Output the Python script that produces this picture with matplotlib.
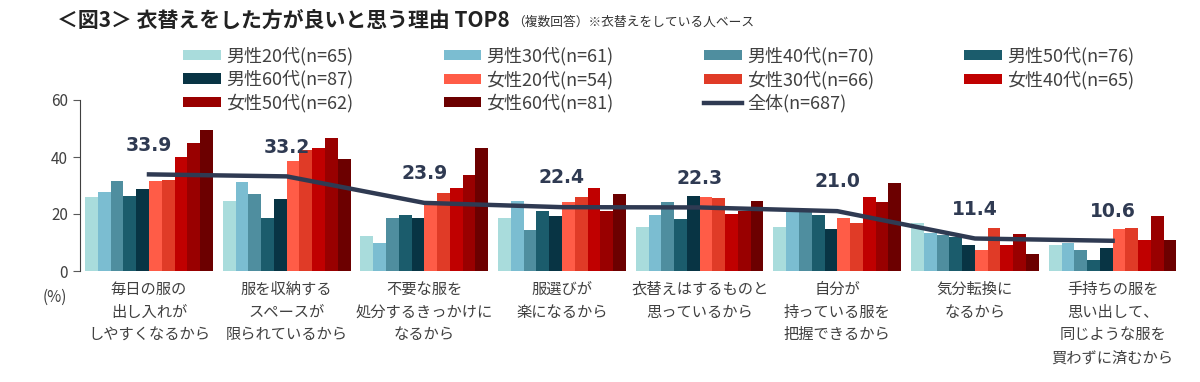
import numpy as np
import matplotlib
matplotlib.use("Agg")
import matplotlib.pyplot as plt

plt.rcParams['font.family'] = ['Noto Sans CJK JP', 'DejaVu Sans']

categories = ["毎日の服の\n出し入れが\nしやすくなるから",
              "服を収納する\nスペースが\n限られているから",
              "不要な服を\n処分するきっかけに\nなるから",
              "服選びが\n楽になるから",
              "衣替えはするものと\n思っているから",
              "自分が\n持っている服を\n把握できるから",
              "気分転換に\nなるから",
              "手持ちの服を\n思い出して、\n同じような服を\n買わずに済むから"]

groups = ["男性20代(n=65)", "男性30代(n=61)", "男性40代(n=70)", "男性50代(n=76)",
          "男性60代(n=87)", "女性20代(n=54)", "女性30代(n=66)", "女性40代(n=65)",
          "女性50代(n=62)", "女性60代(n=81)"]

m20 = [26.1, 24.6, 12.3, 18.5, 15.4, 15.4, 16.7, 9.2]
m30 = [27.8, 31.1, 9.7, 24.6, 19.5, 20.7, 13.2, 9.8]
m40 = [31.6, 27.1, 18.6, 14.3, 24.2, 20.6, 12.6, 7.4]
m50 = [26.2, 18.5, 19.8, 21.1, 18.4, 19.6, 11.8, 4.0]
m60 = [28.7, 25.3, 18.5, 19.4, 26.3, 14.8, 9.2, 8.0]
f20 = [31.5, 38.7, 23.8, 24.1, 25.9, 18.6, 7.4, 14.7]
f30 = [31.8, 42.5, 27.3, 25.9, 25.7, 16.7, 15.2, 15.2]
f40 = [39.9, 43.1, 29.1, 29.1, 20.0, 26.0, 9.2, 10.9]
f50 = [45.0, 46.7, 33.8, 20.9, 21.0, 24.2, 12.9, 19.3]
f60 = [49.4, 39.3, 43.1, 27.0, 24.7, 30.8, 6.1, 11.0]

total = [33.9, 33.2, 23.9, 22.4, 22.3, 21.0, 11.4, 10.6]
total_label = "全体(n=687)"

colors = ["#a9dcdc", "#7bbdd1", "#4f8e9f", "#1b5c6c", "#083444",
          "#ff5c47", "#e03b27", "#c00000", "#990000", "#6c0000"]
line_color = "#2f3a52"
text_color = "#404040"

series = [m20, m30, m40, m50, m60, f20, f30, f40, f50, f60]

fig = plt.figure(figsize=(12, 3.82), dpi=100)
ax = fig.add_axes([80 / 1200, 111 / 382, 1098 / 1200, 171 / 382])

x = np.arange(len(categories))
w = 0.928 / len(series)
bars = []
for i, (vals, col) in enumerate(zip(series, colors)):
    b = ax.bar(x - 0.464 + w * (i + 0.5), vals, width=w, color=col, linewidth=0)
    bars.append(b)

ln, = ax.plot(x, total, color=line_color, linewidth=3.2, zorder=5)
for xi, v in zip(x, total):
    ax.annotate(f"{v:.1f}", (xi, v), xytext=(0, 21), textcoords="offset points",
                ha="center", va="center", fontsize=13.5, fontweight="bold",
                color=line_color, family="DejaVu Sans", zorder=6)

ax.set_xlim(-0.501, 7.475)
ax.set_ylim(0, 60)
ax.set_yticks([0, 20, 40, 60])
ax.tick_params(axis="y", direction="out", length=5, colors="#595959",
               labelsize=11, labelcolor=text_color)
for s in ["top", "right", "bottom"]:
    ax.spines[s].set_visible(False)
ax.spines["left"].set_color("#404040")
ax.set_xticks(x)
ax.set_xticklabels(categories, fontsize=11, color=text_color, linespacing=1.45,
                   va="top")
ax.tick_params(axis="x", length=0, pad=7)
ax.text(-0.023, -0.155, "(%)", transform=ax.transAxes, ha="center", va="center",
        fontsize=11, color=text_color)

# legend order so that matplotlib's column filling gives row-wise layout
handles = bars + [ln]
labels = groups + [total_label]
order = [0, 4, 8, 1, 5, 9, 2, 6, 10, 3, 7]
fig.legend([handles[i] for i in order], [labels[i] for i in order],
           loc="upper left", bbox_to_anchor=(183 / 1200, 1 - 47 / 382),
           ncol=4, frameon=False, fontsize=13, handlelength=2.1,
           handleheight=0.5, handletextpad=0.28, columnspacing=5.0,
           labelspacing=0.26, borderpad=0, borderaxespad=0,
           labelcolor=text_color)

t = fig.text(57 / 1200, 1 - 20 / 382, "＜図3＞ 衣替えをした方が良いと思う理由 TOP8",
             fontsize=15, fontweight="bold", color="#222222", va="center")
fig.canvas.draw()
ax.annotate("（複数回答）※衣替えをしている人ベース", xy=(1, 0.1), xycoords=t,
            xytext=(2, 0), textcoords="offset points", ha="left", va="bottom",
            fontsize=9.2, color="#333333", annotation_clip=False)

fig.savefig("out.png", dpi=100)
